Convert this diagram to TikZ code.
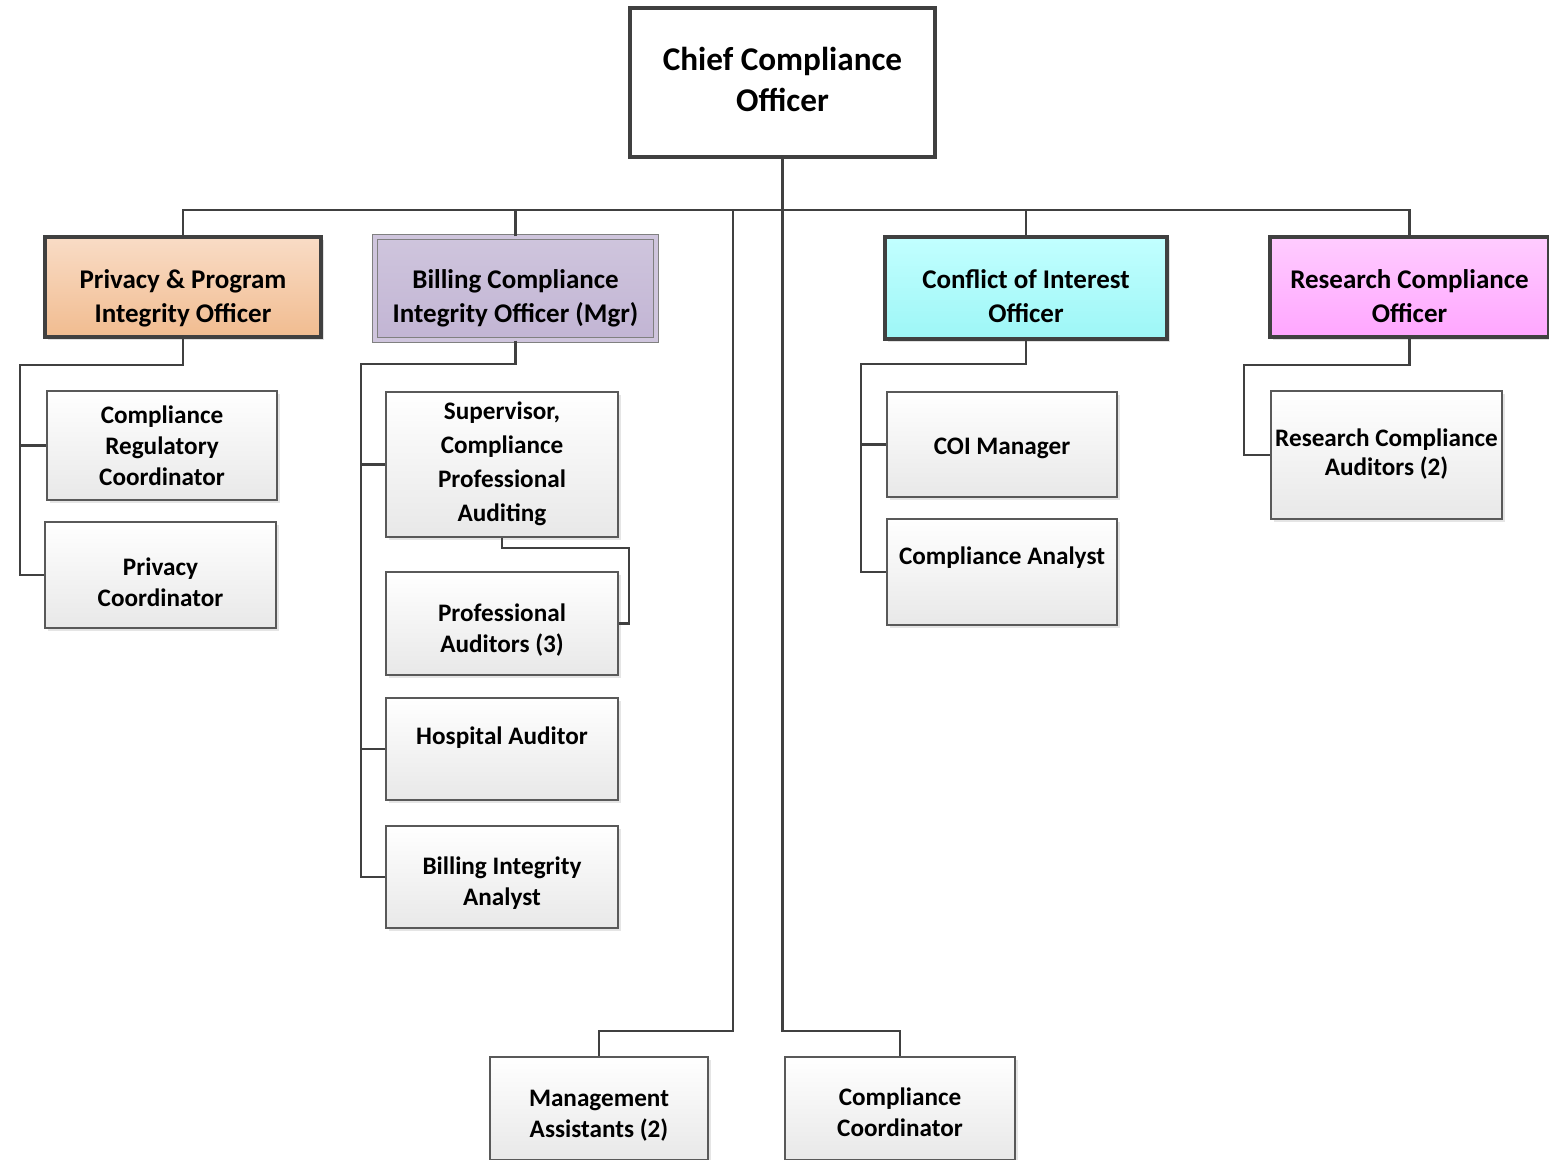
\documentclass[tikz,border=0pt]{standalone}
\usepackage{fontspec}
\setmainfont{Carlito}
\usetikzlibrary{shadows}
\definecolor{lineC}{HTML}{404040}
\definecolor{peachT}{HTML}{F9DCC6}
\definecolor{peachB}{HTML}{F1BC90}
\definecolor{lavT}{HTML}{CFC5DD}
\definecolor{lavB}{HTML}{C2B5D4}
\definecolor{cyanT}{HTML}{C2FFFF}
\definecolor{cyanB}{HTML}{9DF6F6}
\definecolor{pinkT}{HTML}{FFCCFF}
\definecolor{pinkB}{HTML}{FFA6FF}
\newcommand{\tx}[2][0pt]{\raisebox{-#1}[\height][\depth]{\begin{tabular}{@{}c@{}}#2\end{tabular}}}
\begin{document}
\begin{tikzpicture}[x=0.5pt,y=-0.5pt,
  conn/.style={draw=lineC,line width=1.3pt},
  chief/.style={draw=lineC,line width=2.2pt,fill=white,
    font=\fontsize{16.6}{20.5}\selectfont\bfseries,inner sep=0pt},
  officer/.style={draw=lineC,line width=2.2pt,
    font=\fontsize{13.5}{17}\selectfont\bfseries,inner sep=0pt,
    drop shadow={shadow xshift=1.5pt,shadow yshift=-1.5pt,fill=black!12,opacity=1}},
  sub/.style={draw=black!65,line width=0.9pt,top color=white,bottom color=black!9,
    font=\fontsize{12.6}{15.5}\selectfont\bfseries,inner sep=0pt,
    drop shadow={shadow xshift=1.5pt,shadow yshift=-1.5pt,fill=black!10,opacity=1}},
]
\useasboundingbox (0,0) rectangle (1549,1160);
\fill[white] (0,0) rectangle (1549,1160);

\coordinate (bus) at (0,210);
\coordinate (low) at (0,1031);
\coordinate (j1) at (733,210);
\coordinate (pL) at (20,365);
\coordinate (bL) at (361,364);
\coordinate (sR) at (629,548);
\coordinate (cL) at (861,364);
\coordinate (rL) at (1244,365);

% boxes
\node[chief,minimum width=152.5pt,minimum height=74.5pt] (cco) at (782.5,82.5) {\tx{Chief Compliance\\Officer}};
\node[officer,top color=peachT,bottom color=peachB,minimum width=138pt,minimum height=50pt] (ppio) at (183,287) {\tx[6pt]{Privacy \& Program\\Integrity Officer}};
\node[officer,line width=0.6pt,draw=black!50,double=lavT,double distance=1.6pt,top color=lavT,bottom color=lavB,minimum width=140.5pt,minimum height=51.5pt] (bci) at (515.5,288.5) {\tx[5pt]{Billing Compliance\\Integrity Officer (Mgr)}};
\node[officer,top color=cyanT,bottom color=cyanB,minimum width=141pt,minimum height=51pt] (coi) at (1026,288) {\tx[5.5pt]{Conflict of Interest\\Officer}};
\node[officer,top color=pinkT,bottom color=pinkB,minimum width=139.5pt,minimum height=50pt] (rco) at (1409.5,287) {\tx[6pt]{Research Compliance\\Officer}};

\node[sub,minimum width=115pt,minimum height=54.5pt] (crc) at (162,445.5) {\tx[1.5pt]{Compliance\\Regulatory\\Coordinator}};
\node[sub,minimum width=115.5pt,minimum height=53pt] (pc) at (160.5,575) {\tx[5pt]{Privacy\\Coordinator}};
\node[sub,minimum width=116pt,minimum height=72.5pt,font=\fontsize{12.6}{17}\selectfont\bfseries] (sup) at (502,464.5) {\tx[-0.5pt]{Supervisor,\\Compliance\\Professional\\Auditing}};
\node[sub,minimum width=116pt,minimum height=51.5pt] (pa) at (502,623.5) {\tx[3.5pt]{Professional\\Auditors (3)}};
\node[sub,minimum width=116pt,minimum height=51pt] (ha) at (502,749) {\tx[2.5pt]{Hospital Auditor\\ \mbox{}}};
\node[sub,minimum width=116pt,minimum height=51pt] (bia) at (502,877) {\tx[3.5pt]{Billing Integrity\\Analyst}};
\node[sub,minimum width=115pt,minimum height=52.5pt] (coim) at (1002,444.5) {\tx[2pt]{COI Manager}};
\node[sub,minimum width=115pt,minimum height=53pt] (ca) at (1002,572) {\tx[1pt]{Compliance Analyst\\ \mbox{}}};
\node[sub,minimum width=115.5pt,minimum height=64pt,font=\fontsize{12.6}{14.5}\selectfont\bfseries] (rca) at (1386.5,455) {\tx{Research Compliance\\Auditors (2)}};
\node[sub,minimum width=109pt,minimum height=51.5pt] (ma) at (599,1108.5) {\tx[3.5pt]{Management\\Assistants (2)}};
\node[sub,minimum width=115pt,minimum height=51.5pt] (cc) at (900,1108.5) {\tx[3pt]{Compliance\\Coordinator}};

% top level connectors
\draw[conn] (cco.south) |- (cc.north |- low) -- (cc.north);
\draw[conn] (ppio.north) |- (rco.north |- bus) -- (rco.north);
\draw[conn] (bci.north) -- (bci.north |- bus);
\draw[conn] (coi.north) -- (coi.north |- bus);
\draw[conn] (j1) |- (ma.north |- low) -- (ma.north);

% privacy branch
\draw[conn] (ppio.south) |- (pL) |- (pc.west);
\draw[conn] (pL) |- (crc.west);
% billing branch
\draw[conn] (bci.south) |- (bL) |- (bia.west);
\draw[conn] (bL) |- (sup.west);
\draw[conn] (bL) |- (ha.west);
\draw[conn] (sup.south) |- (sR) |- (pa.east);
% COI branch
\draw[conn] (coi.south) |- (cL) |- (ca.west);
\draw[conn] (cL) |- (coim.west);
% research branch
\draw[conn] (rco.south) |- (rL) |- (rca.west);
\end{tikzpicture}
\end{document}
